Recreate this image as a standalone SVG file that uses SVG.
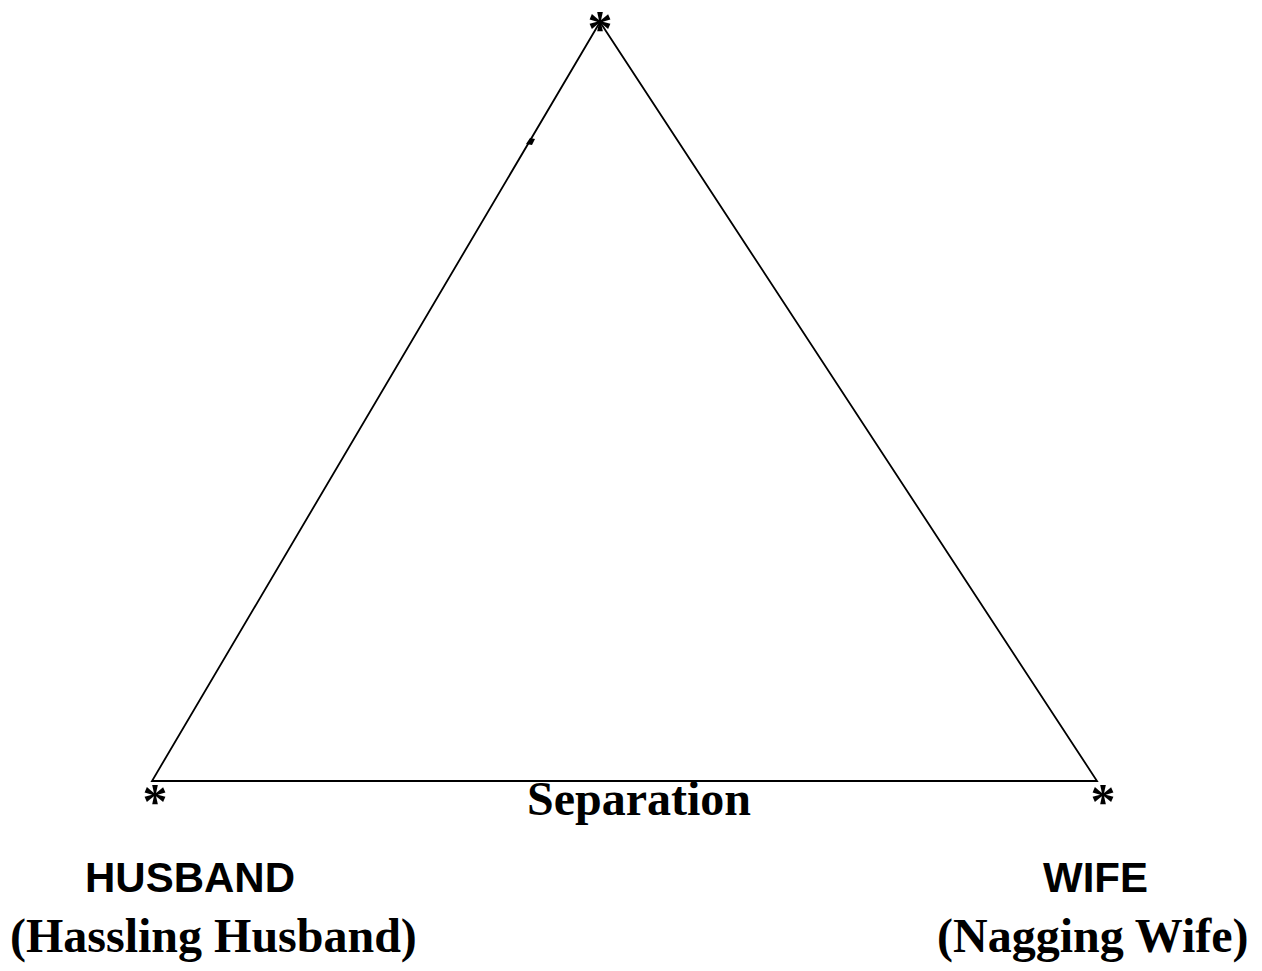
<svg xmlns="http://www.w3.org/2000/svg" width="1262" height="971" viewBox="0 0 1262 971">
<style>
.edge{fill:none;stroke:#000;stroke-width:1.8;stroke-linejoin:miter}
.serif{font-family:"Liberation Serif","Times New Roman",serif;font-weight:bold;fill:#000}
.sans{font-family:"Liberation Sans",Arial,sans-serif;font-weight:bold;fill:#000}
.star{font-family:"Liberation Serif","Times New Roman",serif;font-weight:bold;fill:#000;font-size:50px;text-anchor:middle}
</style>
<rect width="1262" height="971" fill="#fff"/>
<g id="connectors">
<path class="edge" d="M600,22 L152,781 L1097,781 Z"/>
<path d="M526,144 L530,138 L535,139 L532,145 Z" fill="#000"/>
</g>
<g id="apex">
<text class="star" x="600" y="45">*</text>
</g>
<g id="husband">
<text class="star" x="155" y="818">*</text>
<text class="sans" x="85" y="892" font-size="42">HUSBAND</text>
<text class="serif" x="10" y="952" font-size="48">(Hassling Husband)</text>
</g>
<g id="wife">
<text class="star" x="1103" y="818">*</text>
<text class="sans" x="1043" y="892" font-size="42">WIFE</text>
<text class="serif" x="937" y="952" font-size="48">(Nagging Wife)</text>
</g>
<g id="separation">
<text class="serif" x="527" y="815" font-size="48">Separation</text>
</g>
</svg>
